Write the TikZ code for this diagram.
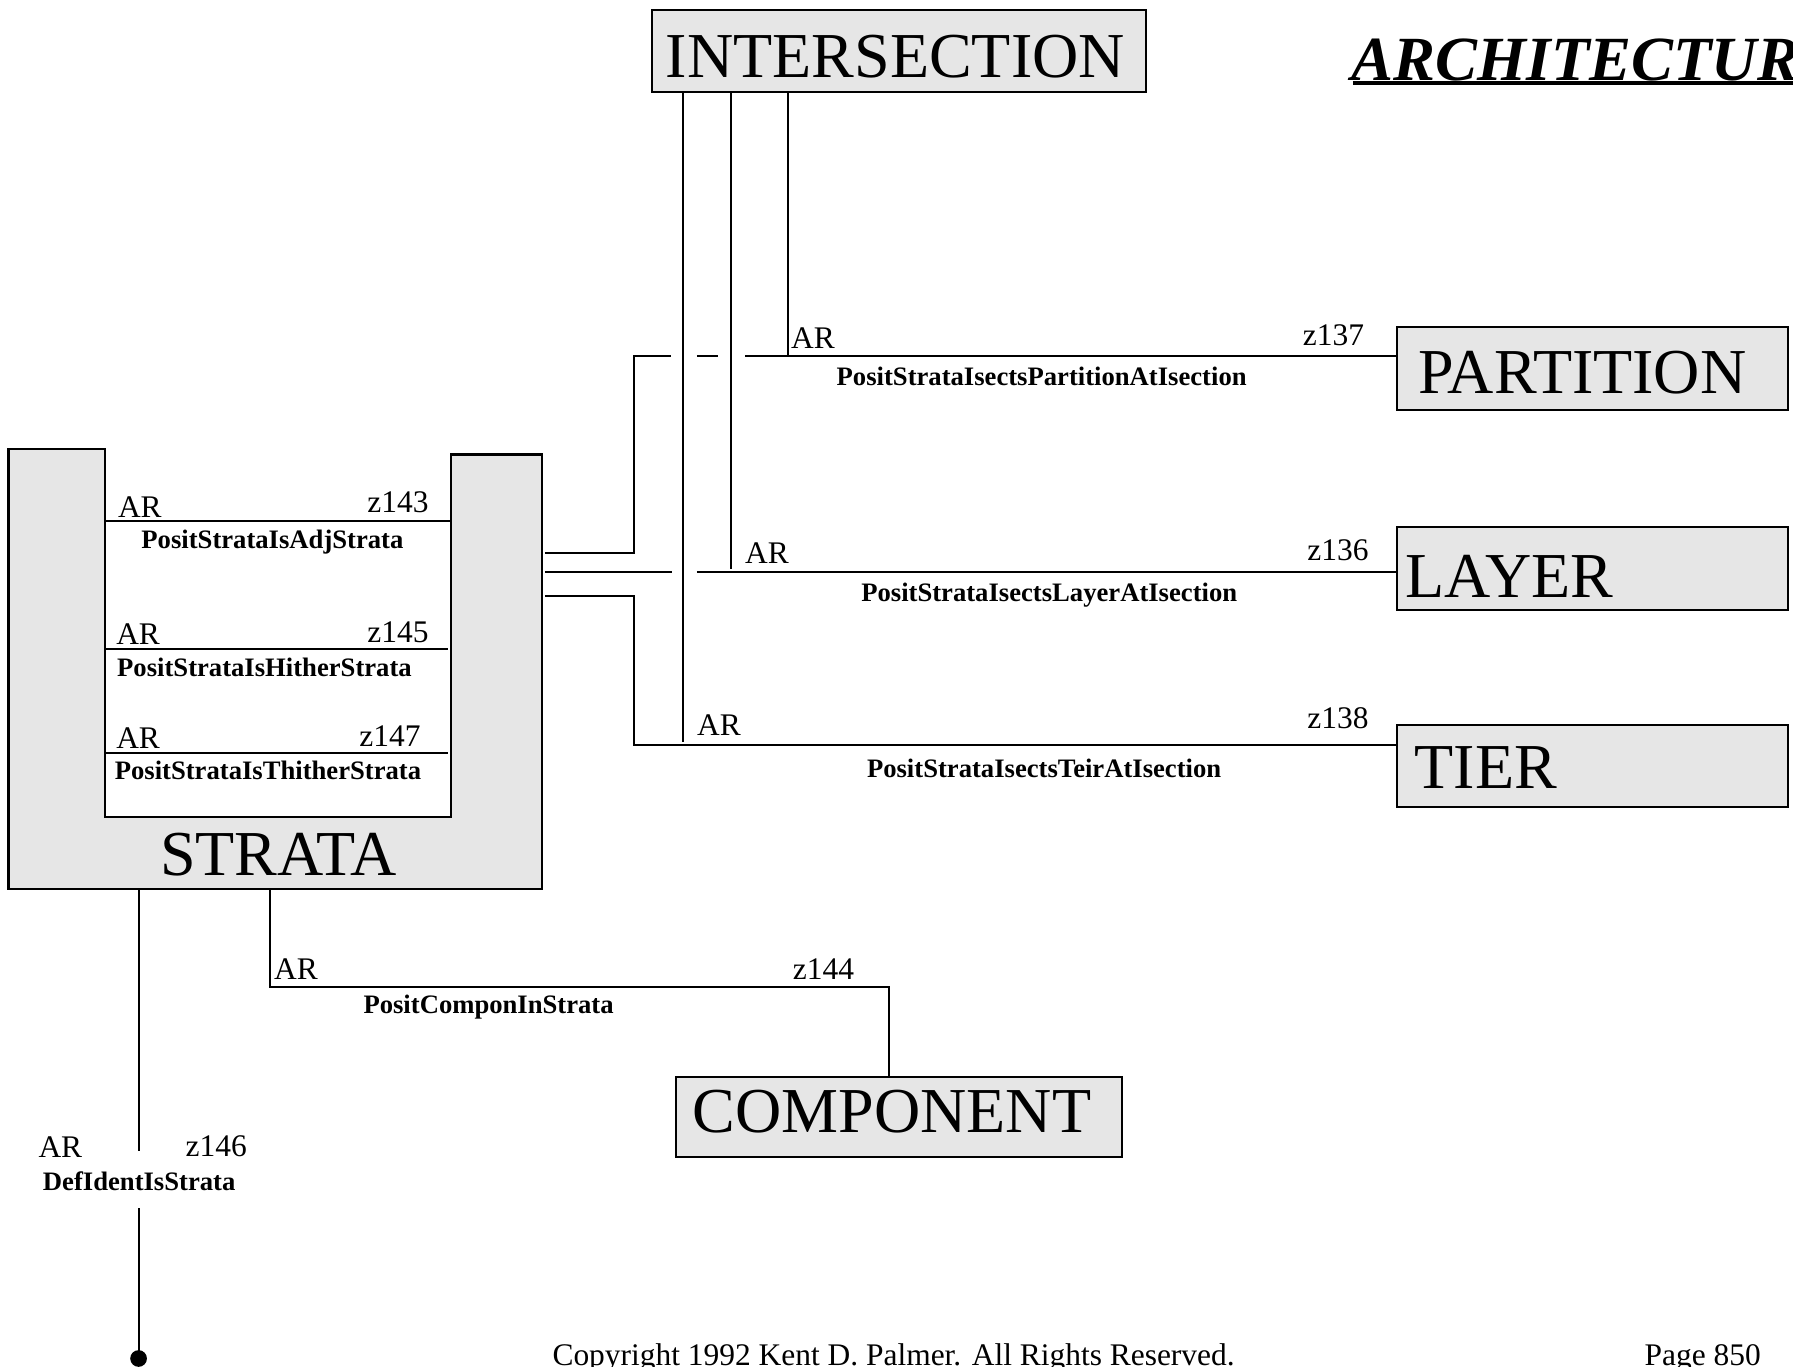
\documentclass[tikz,border=0pt]{standalone}
\usepackage{fontspec}
\setmainfont{Liberation Serif}
\definecolor{boxgray}{RGB}{230,230,230}
\tikzset{
  ebox/.style={draw, line width=1.9pt, fill=boxgray, inner sep=0pt, anchor=north west},
  conn/.style={line width=1.75pt},
  bigtxt/.style={inner sep=0pt, font=\fontsize{56}{60}\selectfont},
  artxt/.style={inner sep=0pt, font=\fontsize{27.5}{30}\selectfont},
  reltxt/.style={inner sep=0pt, font=\bfseries\fontsize{23.3}{26}\selectfont},
}
\begin{document}
\begin{tikzpicture}[x=1pt,y=-1pt]
\useasboundingbox (0,0) rectangle (1568,1195);
\fill[white] (0,0) rectangle (1568,1195);

% ---- boxes
\node[ebox, minimum width=432pt, minimum height=71.5pt] (isect) at (569,8) {};
\node[ebox, minimum width=342pt, minimum height=72.5pt] (part) at (1220.5,285) {};
\node[ebox, minimum width=342pt, minimum height=72.5pt] (layer) at (1220.5,460) {};
\node[ebox, minimum width=342pt, minimum height=71.2pt] (tier) at (1220.5,633.4) {};
\node[ebox, minimum width=390pt, minimum height=70pt] (comp) at (590,941) {};

\node[bigtxt, anchor=base] (isectT) at (783,67.6) {INTERSECTION};
\node[bigtxt, anchor=base west] (partT) at (1240,343.7) {PARTITION};
\node[bigtxt, anchor=base west] (layerT) at (1229,522.4) {LAYER};
\node[bigtxt, anchor=base west] (tierT) at (1237,689.4) {TIER};
\node[bigtxt, anchor=base] (compT) at (780,990.2) {COMPONENT};

% ---- STRATA (U shape)
\draw[line width=1.9pt, fill=boxgray] (7.5,393) -- (91.8,393) -- (91.8,714.2) -- (394.5,714.2)
  -- (394.5,397.5) -- (473.8,397.5) -- (473.8,777.5) -- (7.5,777.5) -- cycle;
\node[bigtxt, anchor=base] (strata) at (243.6,765.2) {STRATA};

% self relations inside STRATA
\draw[conn] (91.8,455.6) -- (394.5,455.6);
\draw[conn] (91.8,567.6) -- (392,567.6);
\draw[conn] (91.8,658.2) -- (392,658.2);
\node[artxt, anchor=base west] (ar1) at (103,452.4) {AR};
\node[artxt, anchor=base east] (z143) at (375,448.3) {z143};
\node[reltxt, anchor=base west] (r1) at (123.5,479.5) {PositStrataIsAdjStrata};
\node[artxt, anchor=base west] (ar2) at (101.5,564) {AR};
\node[artxt, anchor=base east] (z145) at (375,562) {z145};
\node[reltxt, anchor=base west] (r2) at (102.3,591.5) {PositStrataIsHitherStrata};
\node[artxt, anchor=base west] (ar3) at (101.5,654.4) {AR};
\node[artxt, anchor=base east] (z147) at (368,652.4) {z147};
\node[reltxt, anchor=base west] (r3) at (100.2,681.3) {PositStrataIsThitherStrata};

% ---- title
\node[inner sep=0pt, anchor=base west, font=\bfseries\itshape\fontsize{55}{60}\selectfont] (title) at (1182,70) {ARCHITECTURE};
\draw[line width=3.3pt] (1183,72.9) -- (1620,72.9);

% ---- connector coordinates
\coordinate (sR1) at (476.5,484);
\coordinate (sR2) at (476.5,500);
\coordinate (sR3) at (476.5,521);
\coordinate (pc) at (554,311);
\coordinate (tc) at (554,651.5);
\coordinate (j1) at (597,648.6);
\coordinate (j2) at (639,498);
\coordinate (j3) at (689,311);

% verticals from INTERSECTION
\draw[conn] (isect.south -| j1) -- (j1);
\draw[conn] (isect.south -| j2) -- (j2);
\draw[conn] (isect.south -| j3) -- (j3);

% STRATA - PARTITION
\draw[conn] (sR1) -| (pc) -- (587,311);
\draw[conn] (609.5,311) -- (628.3,311);
\draw[conn] (651.9,311) -- (part.west |- j3);
\node[artxt, anchor=base west] (arP) at (691.7,304.6) {AR};
\node[artxt, anchor=base east] (z137) at (1193,301.7) {z137};
\node[reltxt, anchor=base west] (rP) at (731.5,337) {PositStrataIsectsPartitionAtIsection};

% STRATA - LAYER
\draw[conn] (sR2) -- (587.7,500);
\draw[conn] (609.4,500) -- (layer.west |- sR2);
\node[artxt, anchor=base west] (arL) at (651.5,492.6) {AR};
\node[artxt, anchor=base east] (z136) at (1197,490.3) {z136};
\node[reltxt, anchor=base west] (rL) at (753,525.7) {PositStrataIsectsLayerAtIsection};

% STRATA - TIER
\draw[conn] (sR3) -| (tc) -- (tier.west |- tc);
\node[artxt, anchor=base west] (arT) at (609.4,642.8) {AR};
\node[artxt, anchor=base east] (z138) at (1197,637) {z138};
\node[reltxt, anchor=base west] (rT) at (758,680) {PositStrataIsectsTeirAtIsection};

% STRATA - COMPONENT
\coordinate (sB2) at (236,777.5);
\coordinate (cc) at (777,863.4);
\draw[conn] (sB2) |- (cc) -- (comp.north -| cc);
\node[artxt, anchor=base west] (arC) at (239.6,856.4) {AR};
\node[artxt, anchor=base east] (z144) at (747,856.4) {z144};
\node[reltxt, anchor=base west] (rC) at (317.7,886.5) {PositComponInStrata};

% DefIdent
\coordinate (sB1) at (121.2,777.5);
\coordinate (d1) at (121.2,1006.3);
\coordinate (d2) at (121.2,1056.7);
\coordinate (dot) at (121.2,1188);
\draw[conn] (sB1) -- (d1);
\draw[conn] (d2) -- (dot);
\fill (dot) circle (7.3);
\node[artxt, anchor=base west] (arD) at (33.5,1012) {AR};
\node[artxt, anchor=base east] (z146) at (216,1011) {z146};
\node[reltxt, anchor=base west] (rD) at (37.4,1040.7) {DefIdentIsStrata};

% footer
\node[artxt, anchor=base west] (copy) at (483,1194) {Copyright 1992 Kent D. Palmer. All Rights Reserved.};
\node[artxt, anchor=base west] (page) at (1438,1194) {Page 850};
\end{tikzpicture}
\end{document}
